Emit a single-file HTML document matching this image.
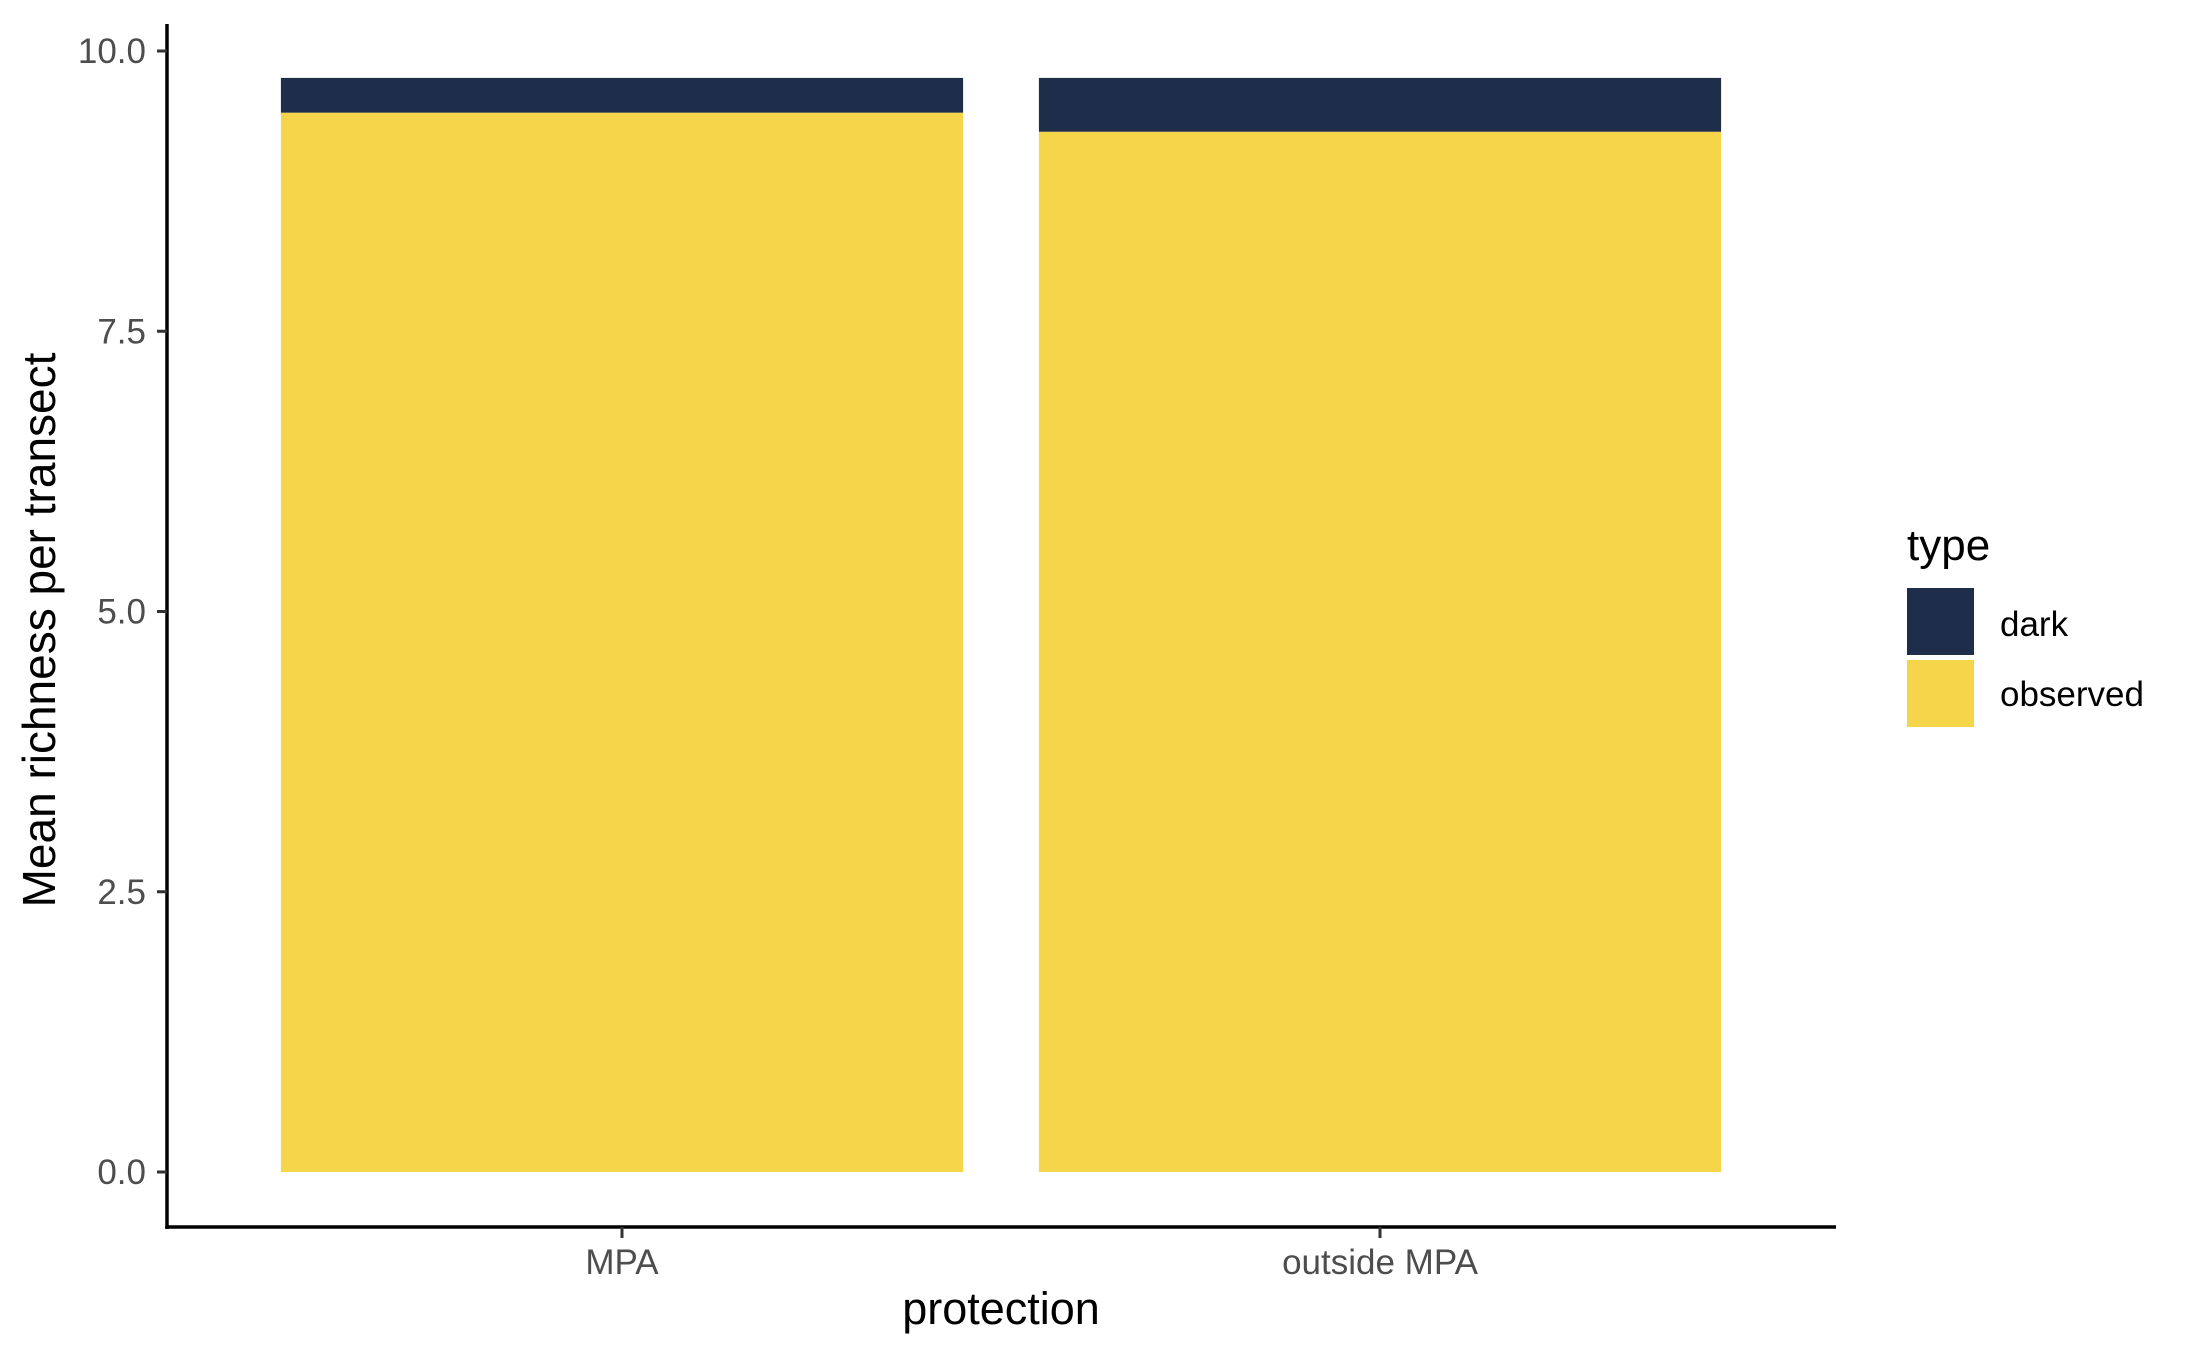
<!DOCTYPE html>
<html><head><meta charset="utf-8"><style>
html,body{margin:0;padding:0;background:#fff;}
svg{display:block;font-family:"Liberation Sans",Arial,sans-serif;}
</style></head><body>
<svg id="chart" width="2196" height="1356" viewBox="0 0 2196 1356">
<g id="bars"></g>
<g id="axes"></g>
<text x="1001" y="1324" font-size="45" text-anchor="middle" fill="#000">protection</text>
<text transform="translate(55,630) rotate(-90)" font-size="46" text-anchor="middle" fill="#000">Mean richness per transect</text>
<g>
<text x="1907" y="560" font-size="44" fill="#000">type</text>
<rect x="1907" y="588" width="67" height="67" fill="#1e2d4a"/>
<text x="2000" y="636" font-size="35" fill="#000">dark</text>
<rect x="1907" y="660" width="67" height="67" fill="#f5d64a"/>
<text x="2000" y="706" font-size="35" fill="#000">observed</text>
</g>
</svg>
<script>
const categories = ["MPA", "outside MPA"];
const observedValues = [9.45, 9.28];
const darkValues = [0.31, 0.48];
const yTicks = [0, 2.5, 5, 7.5, 10];
const yTickLabels = ["0.0", "2.5", "5.0", "7.5", "10.0"];

const NS = "http://www.w3.org/2000/svg";
const y0px = 1172, pxPerUnit = 112.1;
function yScale(v){ return y0px - v * pxPerUnit; }
const xLeft = 167, xRight = 1836, xStart = 243, band = 758;
function xScale(i){ return xStart + band/2 + i*band; }
const barW = band * 0.9;

const bars = document.getElementById('bars');
categories.forEach((c, i) => {
  const cx = xScale(i);
  const o = document.createElementNS(NS, 'rect');
  o.setAttribute('x', cx - barW/2);
  o.setAttribute('y', yScale(observedValues[i]));
  o.setAttribute('width', barW);
  o.setAttribute('height', yScale(0) - yScale(observedValues[i]));
  o.setAttribute('fill', '#f5d64a');
  
  
  bars.appendChild(o);
  const top = observedValues[i] + darkValues[i];
  const d = document.createElementNS(NS, 'rect');
  d.setAttribute('x', cx - barW/2);
  d.setAttribute('y', yScale(top));
  d.setAttribute('width', barW);
  d.setAttribute('height', yScale(observedValues[i]) - yScale(top));
  d.setAttribute('fill', '#1e2d4a');
  
  
  bars.appendChild(d);
});

const axes = document.getElementById('axes');
function line(x1,y1,x2,y2,w,col,name){
  const l = document.createElementNS(NS,'line');
  l.setAttribute('x1',x1);l.setAttribute('y1',y1);l.setAttribute('x2',x2);l.setAttribute('y2',y2);
  l.setAttribute('stroke',col);l.setAttribute('stroke-width',w);
  
  
  axes.appendChild(l);
}
line(xLeft, 24, xLeft, 1229, 3.5, '#000', 'y-axis-line');
line(xLeft-1.75, 1227, xRight, 1227, 3.5, '#000', 'x-axis-line');
yTicks.forEach((v, i) => {
  line(157, yScale(v), xLeft, yScale(v), 3, '#333', 'y-tick');
  const t = document.createElementNS(NS,'text');
  t.setAttribute('x', 146); t.setAttribute('y', yScale(v) + 12);
  t.setAttribute('font-size', '35'); t.setAttribute('text-anchor','end'); t.setAttribute('fill','#4d4d4d');
  t.textContent = yTickLabels[i];
  
  
  axes.appendChild(t);
});
categories.forEach((c, i) => {
  line(xScale(i), 1227, xScale(i), 1238, 3, '#333', 'x-tick');
  const t = document.createElementNS(NS,'text');
  t.setAttribute('x', xScale(i)); t.setAttribute('y', 1274);
  t.setAttribute('font-size', '35'); t.setAttribute('text-anchor','middle'); t.setAttribute('fill','#4d4d4d');
  t.textContent = c;
  
  
  axes.appendChild(t);
});
</script>
</body></html>
